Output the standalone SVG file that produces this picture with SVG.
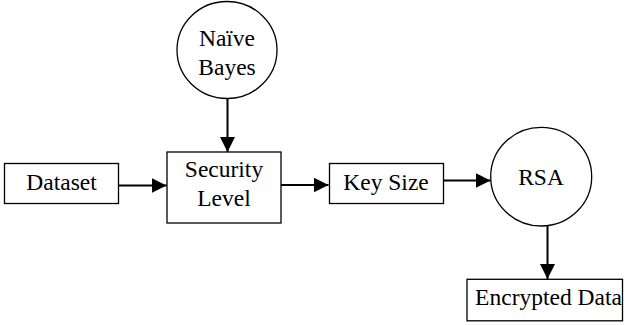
<svg xmlns="http://www.w3.org/2000/svg" width="626" height="325" viewBox="0 0 626 325">
  <style>
    .shape { fill: #ffffff; stroke: #000000; stroke-width: 1.3; }
    .label { font-family: "Liberation Serif", "Times New Roman", serif; font-size: 23.5px; fill: #000000; text-anchor: middle; }
    .link { fill: none; stroke: #000000; stroke-width: 2; }
  </style>
  <defs>
    <marker id="arrow" markerUnits="userSpaceOnUse" markerWidth="16" markerHeight="16" refX="15" refY="7.5" orient="auto">
      <path d="M0,0 L15,7.5 L0,15 Z" fill="#000000"/>
    </marker>
  </defs>

  <rect width="626" height="325" fill="#ffffff"/>

  <g id="connectors">
    <line class="link" x1="227.5" y1="99" x2="227.5" y2="152" marker-end="url(#arrow)"/>
    <line class="link" x1="119" y1="185.5" x2="166.5" y2="185.5" marker-end="url(#arrow)"/>
    <line class="link" x1="281" y1="185" x2="328.5" y2="185" marker-end="url(#arrow)"/>
    <line class="link" x1="443" y1="180.5" x2="490.5" y2="180.5" marker-end="url(#arrow)"/>
    <line class="link" x1="547.5" y1="226" x2="547.5" y2="279" marker-end="url(#arrow)"/>
  </g>

  <g id="naive-bayes">
    <ellipse class="shape" cx="227" cy="50" rx="50" ry="48.5"/>
    <text class="label" x="227" y="45.5">Naïve</text>
    <text class="label" x="227" y="75">Bayes</text>
  </g>

  <g id="dataset">
    <rect class="shape" x="4.5" y="163.5" width="114" height="40"/>
    <text class="label" x="61.5" y="190">Dataset</text>
  </g>

  <g id="security-level">
    <rect class="shape" x="167" y="152" width="114" height="71"/>
    <text class="label" x="224" y="177.3">Security</text>
    <text class="label" x="224" y="206">Level</text>
  </g>

  <g id="key-size">
    <rect class="shape" x="329.5" y="163.5" width="114" height="40"/>
    <text class="label" x="386" y="190">Key Size</text>
  </g>

  <g id="rsa">
    <ellipse class="shape" cx="541.2" cy="176.7" rx="50.5" ry="49.3"/>
    <text class="label" x="541" y="185">RSA</text>
  </g>

  <g id="encrypted-data">
    <rect class="shape" x="467" y="279.3" width="155.5" height="41.5"/>
    <text class="label" x="548.5" y="305">Encrypted Data</text>
  </g>
</svg>
